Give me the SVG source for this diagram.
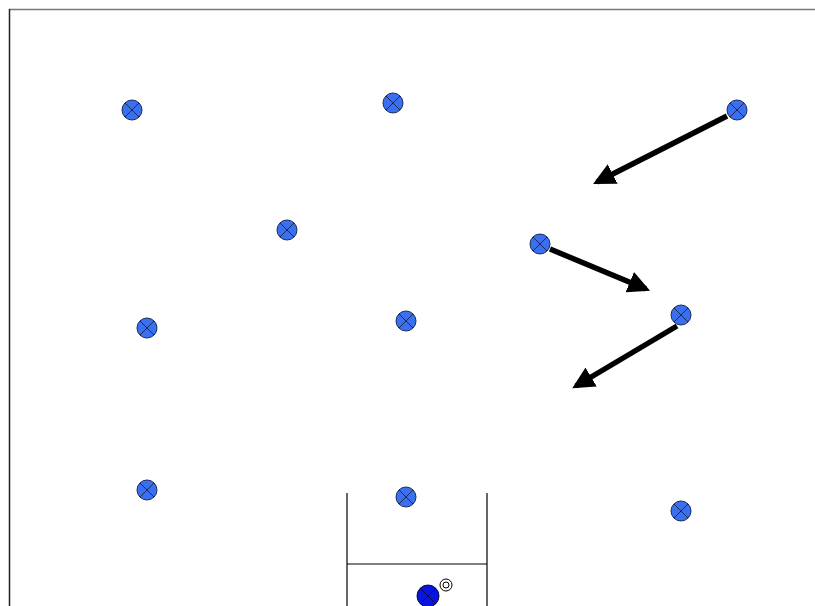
<svg xmlns="http://www.w3.org/2000/svg" width="815" height="606" viewBox="0 0 815 606">
<style>
.gk circle.b{fill:#0a14e0;stroke:#0a0a40;stroke-width:1}
.gk line{stroke:#0a0a40;stroke-width:1}
.mv{stroke:#000;stroke-width:5.5;fill:none}
.f{stroke:#000;stroke-width:1.2;fill:none}
</style>
<defs>
<marker id="ah" viewBox="0 0 10 10" refX="8" refY="5" markerWidth="4" markerHeight="4" orient="auto" markerUnits="strokeWidth">
<path d="M0,0 L10,5 L0,10 z" fill="#000"/>
</marker>
<g id="pl">
<circle r="10" fill="#3a6ff0" stroke="#1a2a5a" stroke-width="1"/>
<line x1="-7" y1="-7" x2="7" y2="7" stroke="#1a2a5a" stroke-width="1"/>
<line x1="-7" y1="7" x2="7" y2="-7" stroke="#1a2a5a" stroke-width="1"/>
</g>
</defs>
<rect width="815" height="606" fill="#fff"/>
<g id="field">
<line x1="9" y1="9.5" x2="815" y2="9.5" stroke="#777" stroke-width="1.5"/>
<line x1="9.5" y1="9" x2="9.5" y2="606" stroke="#222" stroke-width="1.5"/>
<line class="f" x1="347" y1="493" x2="347" y2="606"/>
<line class="f" x1="487" y1="493" x2="487" y2="606"/>
<line class="f" x1="347" y1="564" x2="487" y2="564"/>
</g>
<g id="connectors">
<line class="mv" x1="727" y1="116" x2="597" y2="182" marker-end="url(#ah)"/>
<line class="mv" x1="550" y1="249" x2="646" y2="289" marker-end="url(#ah)"/>
<line class="mv" x1="677" y1="326" x2="576" y2="386" marker-end="url(#ah)"/>
</g>
<g id="p1"><use href="#pl" x="132" y="110"/></g>
<g id="p2"><use href="#pl" x="393" y="103"/></g>
<g id="p3"><use href="#pl" x="737" y="110"/></g>
<g id="p4"><use href="#pl" x="287" y="230"/></g>
<g id="p5"><use href="#pl" x="540" y="244"/></g>
<g id="p6"><use href="#pl" x="147" y="328"/></g>
<g id="p7"><use href="#pl" x="406" y="321"/></g>
<g id="p8"><use href="#pl" x="681" y="315"/></g>
<g id="p9"><use href="#pl" x="147" y="490"/></g>
<g id="p10"><use href="#pl" x="406" y="497"/></g>
<g id="p11"><use href="#pl" x="681" y="511"/></g>
<g id="gk" class="gk">
<circle class="b" cx="428" cy="596" r="11"/>
<line x1="420" y1="588" x2="436" y2="604"/>
<line x1="420" y1="604" x2="436" y2="588"/>
</g>
<g id="ball">
<circle cx="446" cy="585" r="6" fill="#fff" stroke="#000" stroke-width="1"/>
<circle cx="446" cy="585" r="3" fill="none" stroke="#000" stroke-width="1"/>
</g>
</svg>
